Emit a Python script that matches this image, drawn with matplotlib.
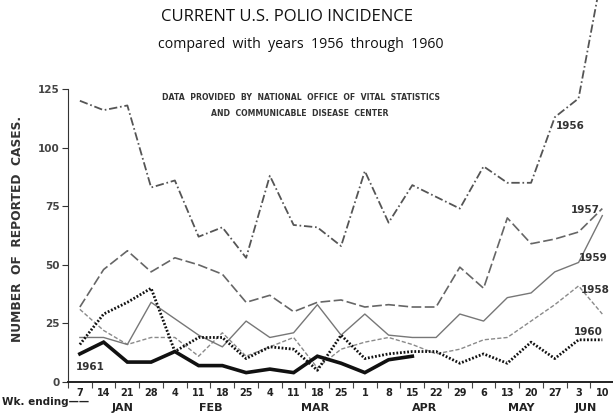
import matplotlib
matplotlib.use("Agg")
import matplotlib.pyplot as plt
import numpy as np

plt.rcParams['lines.scale_dashes'] = False

week_labels = ["7", "14", "21", "28", "4", "11", "18", "25", "4", "11", "18", "25",
               "1", "8", "15", "22", "29", "6", "13", "20", "27", "3", "10"]
months = ["JAN", "FEB", "MAR", "APR", "MAY", "JUN"]
month_pos = [1.8, 5.5, 9.9, 14.5, 18.6, 21.3]

y1956 = [120, 116, 118, 83, 86, 62, 66, 53, 88, 67, 66, 58, 90, 68, 84, 79, 74, 92, 85, 85, 113, 121, 175]
y1957 = [32, 48, 56, 47, 53, 50, 46, 34, 37, 30, 34, 35, 32, 33, 32, 32, 49, 40, 70, 59, 61, 64, 74]
y1958 = [31, 22, 16, 19, 19, 11, 21, 11, 15, 19, 6, 14, 17, 19, 16, 12, 14, 18, 19, 26, 33, 41, 29]
y1959 = [19, 19, 16, 34, 27, 20, 15, 26, 19, 21, 33, 20, 29, 20, 19, 19, 29, 26, 36, 38, 47, 51, 71]
y1960 = [16, 29, 34, 40, 13, 19, 19, 10, 15, 14, 5, 20, 10, 12, 13, 13, 8, 12, 8, 17, 10, 18, 18]
y1961 = [12, 17, 8.5, 8.5, 13, 7, 7, 4, 5.5, 4, 11, 8, 4, 9.5, 11]

x = np.arange(len(week_labels))

fig = plt.figure(figsize=(6.13, 4.13), dpi=100)
ax = fig.add_axes([68/613, 31/413, (613-68)/613, 382/413])
ax.set_xlim(-0.5, 22.45)
ax.set_ylim(0, 163)

ax.plot(x, y1956, color="#555555", lw=1.3, dashes=(6, 2, 1.2, 2))
ax.plot(x, y1957, color="#666666", lw=1.2, dashes=(7, 2.5))
ax.plot(x, y1958, color="#8a8a8a", lw=1.0, dashes=(3, 1.5))
ax.plot(x, y1959, color="#777777", lw=1.0)
ax.plot(x, y1960, color="#111111", lw=2.0, dashes=(1.3, 1.3))
ax.plot(x[:len(y1961)], y1961, color="#111111", lw=2.6, solid_joinstyle="miter")

for s in ["top", "right"]:
    ax.spines[s].set_visible(False)
ax.spines["left"].set_bounds(0, 125)
ax.spines["left"].set_color("#333333")
ax.spines["bottom"].set_color("#222222")
ax.spines["bottom"].set_linewidth(1.4)

ax.set_yticks([0, 25, 50, 75, 100, 125])
ax.tick_params(axis="y", direction="out", length=4, color="#333333", labelsize=7.5,
               labelcolor="#444444", pad=2)
for t in ax.get_yticklabels():
    t.set_fontweight("bold")

ax.set_xticks(x)
ax.set_xticklabels(week_labels)
ax.tick_params(axis="x", which="major", length=0, labelsize=7, labelcolor="#222222", pad=4)
for t in ax.get_xticklabels():
    t.set_fontweight("bold")
ax.set_xticks(np.arange(-0.5, 22.5, 1.0), minor=True)
ax.tick_params(axis="x", which="minor", direction="out", length=4, color="#444444", width=0.8)

ax.set_ylabel("NUMBER  OF  REPORTED  CASES.", fontsize=8.8, fontweight="bold",
              color="#333333")
ax.yaxis.set_label_coords(-0.08, 0.40)

fig.text(287/613, 1 - 17/413, "CURRENT U.S. POLIO INCIDENCE", ha="center", va="center",
         fontsize=12, family="Open Sans", color="#111111")
fig.text(301/613, 1 - 45/413, "compared  with  years  1956  through  1960", ha="center",
         va="center", fontsize=10.2, family="Open Sans", color="#111111")
fig.text(301/613, 1 - 97/413, "DATA  PROVIDED  BY  NATIONAL  OFFICE  OF  VITAL  STATISTICS",
         ha="center", va="center", fontsize=5.6, fontweight="bold", color="#333333")
fig.text(300/613, 1 - 113/413, "AND  COMMUNICABLE  DISEASE  CENTER",
         ha="center", va="center", fontsize=5.6, fontweight="bold", color="#333333")

ylab = {"1956": (570, 126), "1957": (585, 210), "1959": (593, 258),
        "1958": (595, 290), "1960": (588, 332), "1961": (90, 367)}
for k, (px, py) in ylab.items():
    fig.text(px/613, 1 - py/413, k, ha="center", va="center", fontsize=7.5,
             fontweight="bold", color="#333333")

fig.text(2/613, 1 - 402/413, "Wk. ending\u2014\u2014", ha="left", va="center", fontsize=7.5,
         fontweight="bold", color="#222222")
for m, p in zip(months, month_pos):
    ax.text(p, -0.068, m, transform=ax.get_xaxis_transform(), ha="center", va="center",
            fontsize=8, fontweight="bold", color="#222222")

fig.savefig("out.png", dpi=100)
